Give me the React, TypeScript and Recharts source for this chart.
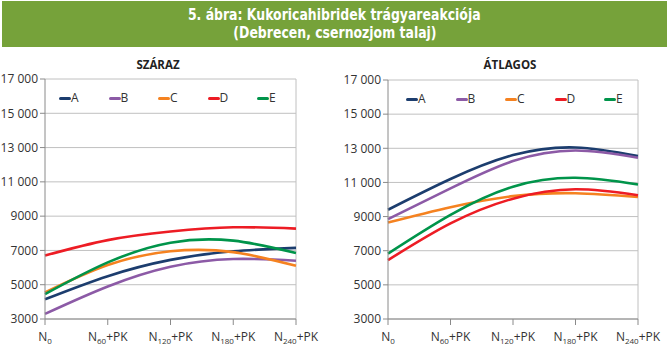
import React from 'react';
import { LineChart, Line, XAxis, YAxis, CartesianGrid, ReferenceLine } from 'recharts';

const categories = ['N0', 'N60+PK', 'N120+PK', 'N180+PK', 'N240+PK'];
const seriesNames = ['A', 'B', 'C', 'D', 'E'];
const yTicks = [3000, 5000, 7000, 9000, 11000, 13000, 15000, 17000];

// SZÁRAZ (dry year)
const szarazA = [4150, 5500, 6450, 6950, 7150];
const szarazB = [3300, 4900, 6050, 6500, 6400];
const szarazC = [4550, 6150, 6950, 6900, 6100];
const szarazD = [6700, 7600, 8100, 8350, 8270];
const szarazE = [4450, 6300, 7450, 7570, 6850];

// ÁTLAGOS (average year)
const atlagosA = [9400, 11200, 12600, 13050, 12550];
const atlagosB = [8850, 10650, 12250, 12870, 12450];
const atlagosC = [8650, 9550, 10200, 10370, 10150];
const atlagosD = [6450, 8600, 10050, 10600, 10250];
const atlagosE = [6830, 9100, 10750, 11270, 10880];

const colors: Record<string, string> = {
    A: '#1c3d6e',
    B: '#8c5aa6',
    C: '#f58220',
    D: '#ed1c24',
    E: '#00944a',
};

const FONT = '"Open Sans", "DejaVu Sans", sans-serif';
const GRID = '#c0c0c0';

const buildRows = (cols: number[][]) =>
    categories.map((cat, i) => {
        const row: Record<string, string | number> = { cat };
        seriesNames.forEach((s, j) => {
            row[s] = cols[j][i];
        });
        return row;
    });

const szarazData = buildRows([szarazA, szarazB, szarazC, szarazD, szarazE]);
const atlagosData = buildRows([atlagosA, atlagosB, atlagosC, atlagosD, atlagosE]);

const formatY = (v: number) => {
    if (v >= 10000) {
        const s = String(v);
        return s.slice(0, s.length - 3) + ' ' + s.slice(-3);
    }
    return String(v);
};

const XTick = (props: any) => {
    const { x, y, payload } = props;
    const m = /^N(\d+)(.*)$/.exec(payload.value) || ['', '', payload.value];
    return (
        <text x={x} y={y + 14} textAnchor="middle" fill="#333" fontSize={12} fontFamily={FONT}>
            <tspan>N</tspan>
            <tspan fontSize={8} dy={3}>{m[1]}</tspan>
            <tspan dy={-3}>{m[2]}</tspan>
        </text>
    );
};

const SeriesLegend: React.FC<{ left: number; top: number }> = ({ left, top }) => (
    <div style={{ position: 'absolute', left, top, display: 'flex' }}>
        {seriesNames.map((s) => (
            <div key={s} style={{ width: 49.5, display: 'flex', alignItems: 'center' }}>
                <span style={{ display: 'inline-block', width: 12, height: 3, borderRadius: 1.5, background: colors[s] }} />
                <span style={{ fontSize: 12, fontFamily: FONT, color: '#333', lineHeight: '14px' }}>{s}</span>
            </div>
        ))}
    </div>
);

interface PanelProps {
    data: Record<string, string | number>[];
    width: number;
    yWidth: number;
    marginTop: number;
    marginRight: number;
}

const Panel: React.FC<PanelProps> = ({ data, width, yWidth, marginTop, marginRight }) => (
    <LineChart width={width} height={302} data={data} margin={{ top: marginTop, right: marginRight, bottom: 3, left: 0 }}>
        <CartesianGrid vertical={false} stroke={GRID} />
        <ReferenceLine x={categories[categories.length - 1]} stroke={GRID} />
        <XAxis
            dataKey="cat"
            stroke="#8a8a8a"
            tickSize={6}
            height={30}
            tick={<XTick />}
            interval={0}
        />
        <YAxis
            domain={[3000, 17000]}
            ticks={yTicks}
            width={yWidth}
            stroke="#8a8a8a"
            tickSize={5}
            tickFormatter={formatY}
            tick={{ fill: '#333', fontSize: 12, fontFamily: FONT }}
            interval={0}
        />
        {seriesNames.map((s) => (
            <Line
                key={s}
                type="natural"
                dataKey={s}
                stroke={colors[s]}
                strokeWidth={2.6}
                dot={false}
                isAnimationActive={false}
            />
        ))}
    </LineChart>
);

const titleStyle: React.CSSProperties = {
    position: 'absolute',
    top: 57,
    fontFamily: FONT,
    fontWeight: 700,
    fontSize: 11.5,
    color: '#222',
    textAlign: 'center',
    width: 120,
};

const bannerLine: React.CSSProperties = {
    display: 'inline-block',
    transform: 'scaleX(0.84)',
    transformOrigin: 'center',
    whiteSpace: 'nowrap',
};

const App: React.FC = () => (
    <div style={{ position: 'absolute', left: 0, top: 0, width: 669, height: 352, background: '#fff', overflow: 'hidden' }}>
        <div
            style={{
                position: 'absolute',
                left: 2,
                top: 1,
                width: 665,
                height: 46,
                background: '#76a23a',
                color: '#fff',
                textAlign: 'center',
                fontFamily: '"Liberation Sans Narrow", "DejaVu Sans Condensed", sans-serif',
                fontWeight: 700,
                fontSize: 16.5,
                lineHeight: '18px',
                paddingTop: 5,
                boxSizing: 'border-box',
            }}
        >
            <div><span style={bannerLine}>5. ábra: Kukoricahibridek trágyareakciója</span></div>
            <div><span style={bannerLine}>(Debrecen, csernozjom talaj)</span></div>
        </div>
        <div style={{ ...titleStyle, left: 98 }}>SZÁRAZ</div>
        <div style={{ ...titleStyle, left: 450 }}>ÁTLAGOS</div>
        <div style={{ position: 'absolute', left: 0, top: 50 }}>
            <Panel data={szarazData} width={334} yWidth={45} marginTop={29} marginRight={38} />
        </div>
        <div style={{ position: 'absolute', left: 334, top: 50 }}>
            <Panel data={atlagosData} width={335} yWidth={54} marginTop={30} marginRight={31} />
        </div>
        <SeriesLegend left={59} top={91} />
        <SeriesLegend left={406} top={92} />
    </div>
);

export default App;
